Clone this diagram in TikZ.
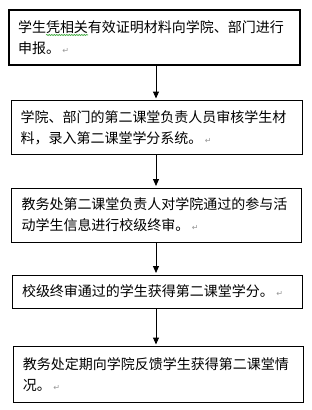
\documentclass[tikz,border=0pt]{standalone}
\usepackage{fontspec}
\setmainfont{Noto Sans CJK SC}
\newfontfamily\markfont{DejaVu Sans}
\usetikzlibrary{arrows.meta,decorations.pathmorphing}
\definecolor{markgray}{RGB}{150,150,150}
\definecolor{wavegreen}{RGB}{60,170,60}
\newcommand{\pmark}{\,{\markfont\fontsize{8pt}{8pt}\selectfont\textcolor{markgray}{↵}}}
\tikzset{
  stepbox/.style={draw=black, line width=1pt, rectangle, inner xsep=9pt, inner ysep=0pt,
    align=left, anchor=center, font=\fontsize{14pt}{21pt}\selectfont},
  arr/.style={draw=black, line width=1pt, -{Triangle[width=6pt,length=7pt]}, shorten >=1.5pt}
}
\begin{document}
\begin{tikzpicture}[x=1pt,y=-1pt]
\useasboundingbox (0,0) rectangle (311,410);
\coordinate (ax) at (156,0);
\node[stepbox, line width=2pt, minimum width=291pt, minimum height=55pt, text width=273pt] (b1) at (154.5,37.5)
  {学生凭相关有效证明材料向学院、部门进行\\申报。\pmark};
\node[stepbox, minimum width=291pt, minimum height=54pt, text width=272pt] (b2) at (156.5,127.5)
  {学院、部门的第二课堂负责人员审核学生材\\料，录入第二课堂学分系统。\pmark};
\node[stepbox, minimum width=289pt, minimum height=54pt, text width=270pt, inner xsep=10pt] (b3) at (156.5,215)
  {教务处第二课堂负责人对学院通过的参与活\\动学生信息进行校级终审。\pmark};
\node[stepbox, minimum width=290pt, minimum height=33pt, text width=270pt, inner xsep=10pt] (b4) at (157,291.5)
  {校级终审通过的学生获得第二课堂学分。\pmark};
\node[stepbox, minimum width=290pt, minimum height=56pt, text width=270pt, inner xsep=10pt] (b5) at (158,374.5)
  {教务处定期向学院反馈学生获得第二课堂情\\况。\pmark};
\draw[arr] (b1.south -| ax) -- (b2.north -| ax);
\draw[arr] (b2.south -| ax) -- (b3.north -| ax);
\draw[arr] (b3.south -| ax) -- (b4.north -| ax);
\draw[arr] (b4.south -| ax) -- (b5.north -| ax);
\draw[wavegreen, line width=0.6pt, decorate, decoration={snake, amplitude=0.6pt, segment length=2.5pt}] (46,35) -- (88,35);
\end{tikzpicture}
\end{document}
